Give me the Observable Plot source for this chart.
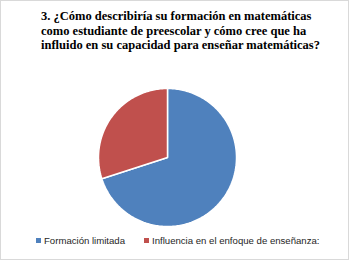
<!DOCTYPE html>
<html>
<head>
<meta charset="utf-8">
<script src="https://cdn.jsdelivr.net/npm/d3@7"></script>
<script src="https://cdn.jsdelivr.net/npm/@observablehq/plot@0.6"></script>
<style>
  html, body { margin: 0; padding: 0; background: #fff; }
  #chart { position: relative; width: 349px; height: 260px; box-sizing: border-box; border: 1px solid #d9d9d9; background: #fff; overflow: hidden; }
  #title { position: absolute; left: 40px; top: 8px; font-family: "Liberation Serif", "Times New Roman", serif; font-weight: bold; font-size: 12.5px; line-height: 14.6px; color: #000; white-space: nowrap; }
  #plot { position: absolute; left: 0; top: 79px; }
  #legend { position: absolute; left: 0; top: 234px; width: 347px; font-family: "Liberation Sans", Arial, sans-serif; font-size: 9.6px; color: #262626; white-space: nowrap; }
  .item { position: absolute; top: 0; }
  .sw { display: inline-block; width: 5px; height: 5px; margin-right: 3px; vertical-align: 1px; }
</style>
</head>
<body>
<div id="chart">
  <div id="title"></div>
  <div id="plot"></div>
  <div id="legend"></div>
</div>
<script>
const titleLines = [
  "3. ¿Cómo describiría su formación en matemáticas",
  "como estudiante de preescolar y cómo cree que ha",
  "influido en su capacidad para enseñar matemáticas?"
];
const categories = ["Formación limitada", "Influencia en el enfoque de enseñanza:"];
const values = [70, 30];
const colors = ["#4F81BD", "#C0504D"];

document.getElementById("title").innerHTML = titleLines.join("<br>");

// slice outlines from d3.pie angles (clockwise from 12 o'clock)
const arcs = d3.pie().sort(null).value(d => d.value)(categories.map((c, i) => ({category: c, value: values[i]})));
const pts = [];
arcs.forEach(a => {
  const cat = a.data.category;
  pts.push({category: cat, x: 0, y: 0});
  const n = Math.max(2, Math.ceil((a.endAngle - a.startAngle) / (Math.PI / 180)));
  for (let k = 0; k <= n; k++) {
    const t = a.startAngle + (a.endAngle - a.startAngle) * k / n;
    pts.push({category: cat, x: Math.sin(t), y: Math.cos(t)});
  }
  pts.push({category: cat, x: 0, y: 0});
});

const cx = 166, cy = 77, r = 69;
const plot = Plot.plot({
  width: 347,
  height: 150,
  margin: 0,
  x: {domain: [-1, 1], range: [cx - r, cx + r], axis: null},
  y: {domain: [-1, 1], range: [cy + r, cy - r], axis: null},
  color: {domain: categories, range: colors},
  marks: [
    Plot.line(pts, {x: "x", y: "y", z: "category", fill: "category", stroke: "#fff", strokeWidth: 1.5, curve: "linear", strokeLinejoin: "miter"})
  ]
});
document.getElementById("plot").appendChild(plot);

const legend = document.getElementById("legend");
const positions = [35, 143];
categories.forEach((c, i) => {
  const el = document.createElement("span");
  el.className = "item";
  el.style.left = positions[i] + "px";
  el.innerHTML = `<span class="sw" style="background:${colors[i]}"></span>${c}`;
  legend.appendChild(el);
});
</script>
</body>
</html>
